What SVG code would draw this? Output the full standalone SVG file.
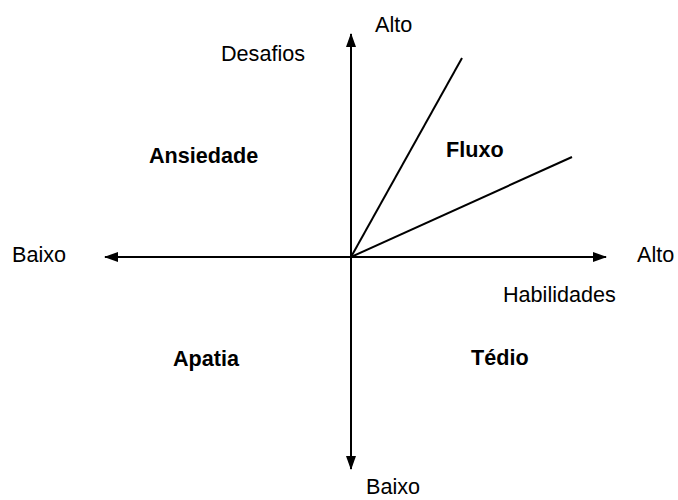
<svg xmlns="http://www.w3.org/2000/svg" width="678" height="500" viewBox="0 0 678 500">
<style>
text{font-family:"Liberation Sans",Arial,sans-serif;font-size:21.6px;fill:#000}
.b{font-weight:bold}
.ax{stroke:#000;stroke-width:2;fill:none}
</style>
<defs>
<marker id="ah" viewBox="0 0 14 10" refX="13" refY="5" markerWidth="14" markerHeight="10" markerUnits="userSpaceOnUse" orient="auto">
<path d="M0,0 L14,5 L0,10 Z" fill="#000"/>
</marker>
</defs>
<rect width="678" height="500" fill="#fff"/>
<g id="connectors">
<line class="ax" x1="351" y1="257" x2="351" y2="34" marker-end="url(#ah)"/>
<line class="ax" x1="351" y1="257" x2="351" y2="469" marker-end="url(#ah)"/>
<line class="ax" x1="351" y1="257" x2="105" y2="257" marker-end="url(#ah)"/>
<line class="ax" x1="351" y1="257" x2="606" y2="257" marker-end="url(#ah)"/>
<line class="ax" x1="351" y1="257" x2="462" y2="58"/>
<line class="ax" x1="351" y1="257" x2="572" y2="157"/>
</g>
<g id="labels">
<text x="375" y="32">Alto</text>
<text x="221" y="61">Desafios</text>
<text x="12" y="262">Baixo</text>
<text x="637" y="262">Alto</text>
<text x="503" y="302">Habilidades</text>
<text x="366" y="494">Baixo</text>
</g>
<g id="ansiedade"><text class="b" x="149" y="163">Ansiedade</text></g>
<g id="fluxo"><text class="b" x="446" y="157">Fluxo</text></g>
<g id="apatia"><text class="b" x="173" y="366">Apatia</text></g>
<g id="tedio"><text class="b" x="471" y="365">Tédio</text></g>
</svg>
